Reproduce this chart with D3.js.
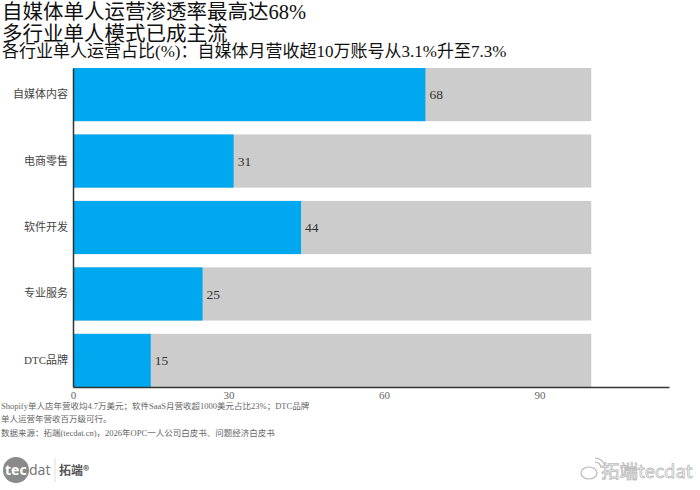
<!DOCTYPE html>
<html><head><meta charset="utf-8">
<script src="https://cdn.jsdelivr.net/npm/d3@7"></script>
<style>body{margin:0;background:#fff}svg{display:block}</style>
</head><body>
<script>
const categories = ["自媒体内容","电商零售","软件开发","专业服务","DTC品牌"];
const values = [68,31,44,25,15];
const totals = [100,100,100,100,100];
const xTicks = [0,30,60,90];
const titleLines = ["自媒体单人运营渗透率最高达68%","多行业单人模式已成主流"];
const subtitle = "各行业单人运营占比(%)：自媒体月营收超10万账号从3.1%升至7.3%";
const notes = ["Shopify单人店年营收均4.7万美元；软件SaaS月营收超1000美元占比23%；DTC品牌","单人运营年营收百万级可行。","数据来源：拓端(tecdat.cn)，2026年OPC一人公司白皮书、问题经济白皮书"];

const W=700,H=490;
const serif = "'Liberation Serif','Noto Sans CJK SC',serif";
const svg = d3.select("body").append("svg").attr("width",W).attr("height",H);

const x = d3.scaleLinear().domain([0,115]).range([73,669]);
const y = d3.scaleBand().domain(categories).range([68,387]).paddingInner(0.2).paddingOuter(0);

// background bars
svg.selectAll("rect.bg").data(categories).join("rect")
  .attr("x",x(0)).attr("y",d=>y(d)).attr("width",(d,i)=>x(totals[i])-x(0)).attr("height",y.bandwidth())
  .attr("fill","#cccccc");
svg.selectAll("rect.fg").data(categories).join("rect")
  .attr("x",x(0)).attr("y",d=>y(d)).attr("width",(d,i)=>x(values[i])-x(0)).attr("height",y.bandwidth())
  .attr("fill","#00a8f0");
svg.selectAll("text.val").data(categories).join("text")
  .attr("x",(d,i)=>x(values[i])+4).attr("y",d=>y(d)+y.bandwidth()/2).attr("dy","0.35em")
  .attr("font-family",serif).attr("font-size",13.5).attr("fill","#333")
  .text((d,i)=>values[i]);

// axes
const xa = svg.append("g").attr("transform",`translate(0,${y.range()[1]})`)
  .call(d3.axisBottom(x).tickValues(xTicks).tickSize(0).tickPadding(4));
xa.select(".domain").attr("stroke","#333").attr("stroke-width",1.5);
xa.selectAll("text").attr("font-family",serif).attr("font-size",11).attr("fill","#666");

const ya = svg.append("g").attr("transform",`translate(${x(0)},0)`)
  .call(d3.axisLeft(y).tickSize(0).tickPadding(5));
ya.select(".domain").attr("stroke","#333").attr("stroke-width",1.5);
ya.selectAll("text").attr("font-family",serif).attr("font-size",11).attr("fill","#444");

// titles
svg.selectAll("text.title").data(titleLines).join("text")
  .attr("x",2).attr("y",(d,i)=>19+i*22)
  .attr("font-family",serif).attr("font-size",20.5).attr("fill","#111").text(d=>d);
svg.append("text").attr("x",2).attr("y",57).attr("font-family",serif)
  .attr("font-size",17).attr("fill","#111").text(subtitle);

// notes
svg.selectAll("text.note").data(notes).join("text")
  .attr("x",1).attr("y",(d,i)=>[409,422,436][i])
  .attr("font-family",serif).attr("font-size",8.5).attr("fill","#666").text(d=>d);

// logo
const lg = svg.append("g");
lg.append("circle").attr("cx",16).attr("cy",470).attr("r",13).attr("fill","#8a8a8a");
lg.append("text").attr("x",5).attr("y",475).attr("font-family","'Noto Sans',sans-serif").attr("font-size",14)
  .attr("fill","#fff").attr("font-weight","bold").text("tec");
lg.append("text").attr("x",29).attr("y",475).attr("font-family","'Noto Sans',sans-serif").attr("font-size",14)
  .attr("fill","#777").text("dat");
lg.append("line").attr("x1",55).attr("x2",55).attr("y1",458).attr("y2",482).attr("stroke","#ddd");
lg.append("text").attr("x",59).attr("y",475).attr("font-family","'Noto Sans CJK SC',sans-serif").attr("font-size",12)
  .attr("fill","#555").attr("font-weight","bold").text("拓端®");

// watermark
const wm = svg.append("g");
wm.append("ellipse").attr("cx",589).attr("cy",473).attr("rx",8).attr("ry",6).attr("fill","none").attr("stroke","#bbb").attr("stroke-width",1.2);
wm.append("path").attr("d","M595,462 a6,6 0 0 1 6,6 M595,458 a10,10 0 0 1 10,10").attr("fill","none").attr("stroke","#bbb").attr("stroke-width",1.2);
wm.append("text").attr("x",601).attr("y",478).attr("font-family","'Noto Sans CJK SC',sans-serif").attr("font-size",18.5)
  .attr("fill","#fff").attr("stroke","#bbb").attr("stroke-width",0.8).text("拓端tecdat");
</script>
</body></html>
